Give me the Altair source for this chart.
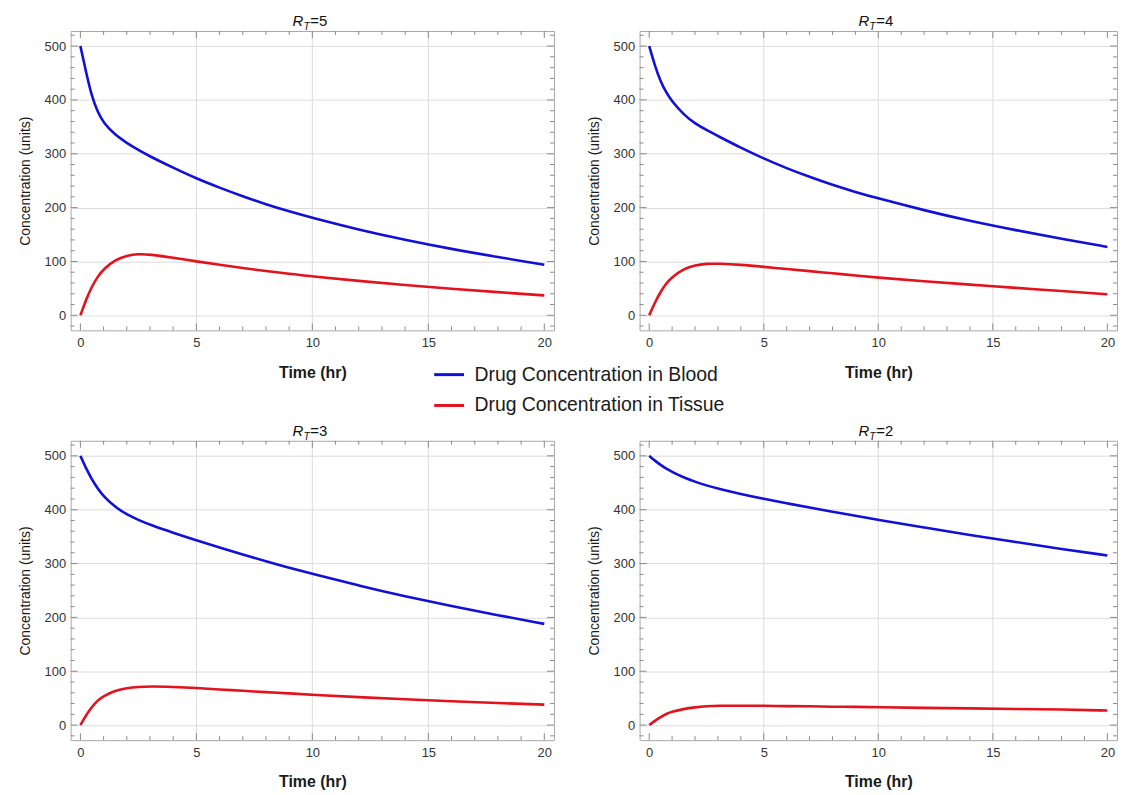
import altair as alt
import pandas as pd

# ---------------- data ----------------
t = [0, 0.25, 0.5, 0.75, 1, 1.5, 2, 2.5, 3, 4, 5, 6, 7, 8, 9, 10, 12, 14, 16, 18, 20]

blood_r5 = [500, 450, 405, 377, 357, 335, 320, 307, 295, 274, 254, 237, 221, 206, 193, 181, 159, 140, 123, 108, 94]
tissue_r5 = [0, 30, 54, 72, 86, 103, 111, 114, 113, 107, 100, 94, 88, 82, 77, 72, 64, 56, 49, 43, 37]

blood_r4 = [500, 463, 434, 413, 397, 373, 356, 344, 333, 311, 291, 273, 257, 242, 229, 217, 195, 175, 158, 142, 127]
tissue_r4 = [0, 24, 44, 60, 71, 86, 93, 96, 96, 94, 90, 86, 82, 78, 74, 70, 63, 57, 51, 45, 39]

blood_r3 = [500, 476, 456, 439, 425, 405, 391, 381, 372, 357, 343, 330, 317, 304, 292, 281, 259, 239, 221, 204, 188]
tissue_r3 = [0, 19, 34, 46, 54, 64, 69, 71, 72, 71, 69, 66, 64, 61, 59, 56, 52, 48, 44, 41, 38]

blood_r2 = [500, 491, 483, 476, 470, 460, 452, 445, 439, 429, 420, 412, 404, 396, 389, 381, 367, 353, 340, 327, 315]
tissue_r2 = [0, 8, 15, 21, 25, 30, 33, 35, 36, 36, 36, 35, 35, 34, 34, 33, 32, 31, 30, 29, 27]

series_names = ["Drug Concentration in Blood", "Drug Concentration in Tissue"]
series_colors = ["#1010d8", "#e4121c"]

x_major = [0, 5, 10, 15, 20]
x_minor = [1, 2, 3, 4, 6, 7, 8, 9, 11, 12, 13, 14, 16, 17, 18, 19]
x_grid = [5, 10, 15]
y_major = [0, 100, 200, 300, 400, 500]
y_minor = [-20, 20, 40, 60, 80, 120, 140, 160, 180, 220, 240, 260, 280,
           320, 340, 360, 380, 420, 440, 460, 480, 520]

panels = [
    ("5", blood_r5, tissue_r5),
    ("4", blood_r4, tissue_r4),
    ("3", blood_r3, tissue_r3),
    ("2", blood_r2, tissue_r2),
]

FONT = "Liberation Sans"
TICK_COLOR = "#8a8a8a"
X_DOMAIN = [-0.42, 20.42]
Y_DOMAIN = [-28, 528]


def panel(rt, blood, tissue, W, H):
    df = pd.DataFrame({
        "t": t + t,
        "value": blood + tissue,
        "series": [series_names[0]] * len(t) + [series_names[1]] * len(t),
    })
    xs = alt.Scale(domain=X_DOMAIN, nice=False, zero=False)
    ys = alt.Scale(domain=Y_DOMAIN, nice=False, zero=False)

    lines = alt.Chart(df).mark_line(strokeWidth=2.6, interpolate="basis").encode(
        x=alt.X("t:Q", scale=xs,
                axis=alt.Axis(values=x_major, title="Time (hr)", grid=False,
                              titleFontWeight="bold", titleFontSize=16,
                              titlePadding=15, labelPadding=6)),
        y=alt.Y("value:Q", scale=ys,
                axis=alt.Axis(values=y_major, title="Concentration (units)",
                              grid=True, titleFontSize=14, titleFontWeight="normal",
                              titlePadding=12, labelPadding=5)),
        color=alt.Color("series:N",
                        scale=alt.Scale(domain=series_names, range=series_colors),
                        legend=alt.Legend(title=None, orient="none",
                                          legendX=364, legendY=329,
                                          symbolType="stroke", symbolSize=900,
                                          symbolStrokeWidth=3, labelFontSize=19.5,
                                          labelFont=FONT, labelColor="#1a1a1a",
                                          labelOffset=9, rowPadding=5)),
    )

    gdf = pd.DataFrame({"g": x_grid})
    grid = alt.Chart(gdf).mark_rule(color="#dcdcdc", strokeWidth=1).encode(
        x=alt.X("g:Q", scale=xs))

    def xticks(vals, ln):
        d = pd.DataFrame({"v": vals})
        b = alt.Chart(d).mark_rule(color=TICK_COLOR, strokeWidth=1)
        bottom = b.encode(x=alt.X("v:Q", scale=xs), y=alt.value(H), y2=alt.value(H - ln))
        top = b.encode(x=alt.X("v:Q", scale=xs), y=alt.value(0), y2=alt.value(ln))
        return [bottom, top]

    def yticks(vals, ln):
        d = pd.DataFrame({"v": vals})
        b = alt.Chart(d).mark_rule(color=TICK_COLOR, strokeWidth=1)
        left = b.encode(y=alt.Y("v:Q", scale=ys), x=alt.value(0), x2=alt.value(ln))
        right = b.encode(y=alt.Y("v:Q", scale=ys), x=alt.value(W), x2=alt.value(W - ln))
        return [left, right]

    tdf = pd.DataFrame({"r": ["R"], "s": ["T"], "e": ["=" + rt]})
    tb = alt.Chart(tdf)
    t_r = tb.mark_text(font=FONT, fontSize=15, fontStyle="italic", align="left",
                       baseline="alphabetic", color="#111").encode(
        text="r:N", x=alt.value(W / 2 - 20), y=alt.value(-5))
    t_s = tb.mark_text(font=FONT, fontSize=10.5, fontStyle="italic", align="left",
                       baseline="alphabetic", color="#111").encode(
        text="s:N", x=alt.value(W / 2 - 9), y=alt.value(-1))
    t_e = tb.mark_text(font=FONT, fontSize=15, align="left",
                       baseline="alphabetic", color="#111").encode(
        text="e:N", x=alt.value(W / 2 - 2), y=alt.value(-5))

    layers = [grid, lines] + xticks(x_major, 7) + xticks(x_minor, 4) + \
        yticks(y_major, 7) + yticks(y_minor, 4) + [t_r, t_s, t_e]
    return alt.layer(*layers).properties(width=W, height=H)


p1 = panel(*panels[0], W=486, H=301)
p2 = panel(*panels[1], W=480, H=301)
p3 = panel(*panels[2], W=486, H=301)
p4 = panel(*panels[3], W=480, H=301)

chart = alt.concat(p1, p2, p3, p4, columns=2,
                   spacing={"row": 111, "column": 86}, bounds="flush").properties(
    padding={"left": 9, "top": 3, "right": 0, "bottom": 0}
).configure_view(
    stroke="#a8a8a8", strokeWidth=1
).configure_axis(
    ticks=False, domain=False, labelFont=FONT, titleFont=FONT,
    labelFontSize=13, labelColor="#333", titleColor="#1a1a1a",
    gridColor="#dcdcdc", gridWidth=1
).configure_legend(
    labelLimit=400
)

chart.save("out.html", embed_options={"renderer": "svg", "actions": False})
